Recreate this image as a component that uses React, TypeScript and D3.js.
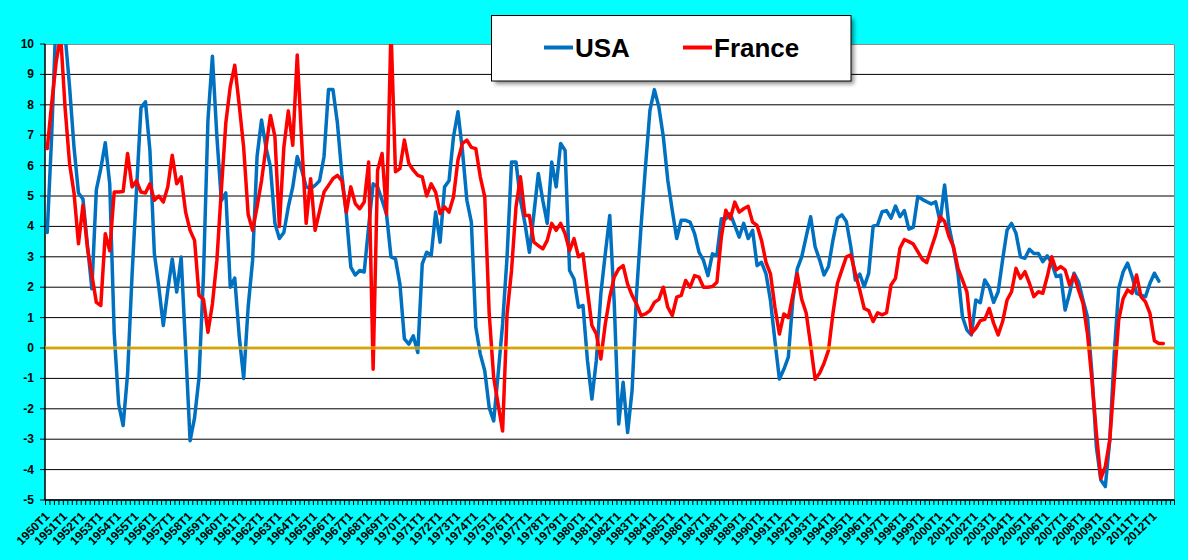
import { useMemo } from 'react';
import * as d3 from 'd3';

// Year-on-year growth, quarterly
const START_YEAR = 1950;
const END_YEAR = 2013; // last category is 2013T1
const LABEL_LAST_YEAR = 2012;

const usa = [
    3.8, 7.0, 11.0, 11.5, 10.3, 8.6, 6.6, 5.1, 4.9, 3.4,
    1.95, 5.2, 5.9, 6.75, 5.4, 0.5, -1.85, -2.55, -0.85, 2.4,
    5.2, 7.9, 8.1, 6.5, 3.1, 2.0, 0.74, 1.9, 2.93, 1.84,
    2.99, 0.0, -3.05, -2.3, -0.97, 2.4, 7.5, 9.6, 6.95, 4.85,
    5.1, 2.0, 2.3, 0.4, -1.0, 1.34, 2.88, 6.3, 7.5, 6.6,
    5.96, 4.1, 3.6, 3.8, 4.64, 5.3, 6.3, 5.85, 5.3, 5.24,
    5.35, 5.5, 6.3, 8.5, 8.5, 7.4, 5.7, 4.4, 2.66, 2.4,
    2.55, 2.5, 4.0, 5.4, 5.3, 4.86, 4.4, 3.0, 2.93, 2.1,
    0.3, 0.13, 0.4, -0.15, 2.77, 3.15, 3.04, 4.47, 3.48, 5.3,
    5.5, 6.95, 7.77, 6.5, 4.86, 4.14, 0.68, -0.2, -0.75, -1.96,
    -2.4, -0.86, 0.79, 3.0, 6.12, 6.12, 4.86, 4.1, 3.15, 4.4,
    5.74, 4.86, 4.1, 6.12, 5.3, 6.73, 6.5, 2.55, 2.27, 1.34,
    1.4, -0.4, -1.68, -0.4, 1.78, 3.1, 4.36, 1.5, -2.5, -1.13,
    -2.78, -1.4, 1.78, 3.98, 5.96, 7.82, 8.5, 7.93, 6.95, 5.52,
    4.53, 3.6, 4.2, 4.2, 4.14, 3.76, 3.15, 2.88, 2.38, 3.1,
    3.04, 4.25, 4.25, 4.42, 4.03, 3.65, 4.1, 3.6, 3.87, 2.71,
    2.82, 2.44, 1.56, 0.24, -1.02, -0.7, -0.3, 1.56, 2.6, 3.0,
    3.66, 4.32, 3.33, 2.9, 2.4, 2.68, 3.55, 4.27, 4.38, 4.16,
    3.33, 2.24, 2.43, 2.02, 2.46, 4.01, 4.05, 4.48, 4.52, 4.27,
    4.67, 4.32, 4.52, 3.91, 3.97, 4.98, 4.89, 4.81, 4.74, 4.81,
    4.16, 5.36, 3.99, 3.28, 2.46, 1.03, 0.59, 0.43, 1.58, 1.49,
    2.24, 2.0, 1.5, 1.85, 2.9, 3.88, 4.1, 3.77, 3.0, 2.95,
    3.25, 3.11, 3.11, 2.84, 3.03, 2.79, 2.35, 2.4, 1.25, 1.8,
    2.46, 2.18, 1.58, 1.03, -0.83, -3.25, -4.34, -4.56, -3.03, -0.18,
    1.96, 2.51, 2.79, 2.35, 1.8, 1.74, 1.69, 2.13, 2.46, 2.2,
];

const france = [
    6.56, 8.05, 9.4, 10.3, 7.9, 6.07, 5.1, 3.43, 4.7, 3.3,
    2.4, 1.5, 1.4, 3.76, 3.2, 5.13, 5.13, 5.15, 6.4, 5.3,
    5.5, 5.13, 5.1, 5.4, 4.86, 5.0, 4.8, 5.3, 6.34, 5.4,
    5.63, 4.47, 3.87, 3.54, 1.73, 1.6, 0.52, 1.45, 2.88, 5.2,
    7.4, 8.6, 9.3, 8.0, 6.6, 4.4, 3.87, 4.64, 5.5, 6.6,
    7.65, 6.95, 4.0, 6.6, 7.8, 6.67, 9.64, 6.8, 4.1, 5.57,
    3.87, 4.5, 5.13, 5.35, 5.57, 5.68, 5.5, 4.47, 5.3, 4.75,
    4.58, 4.8, 6.12, -0.7, 5.85, 6.4, 4.4, 10.5, 5.8, 5.9,
    6.84, 6.07, 5.85, 5.68, 5.63, 5.0, 5.4, 5.13, 4.42, 4.64,
    4.47, 4.97, 6.18, 6.73, 6.84, 6.6, 6.56, 5.63, 4.97, 1.12,
    -0.97, -1.85, -2.73, 1.12, 2.55, 4.64, 5.63, 4.36, 4.36, 3.48,
    3.37, 3.26, 3.54, 4.1, 3.87, 4.1, 3.76, 3.2, 3.6, 3.0,
    3.1, 1.89, 0.74, 0.46, -0.36, 0.79, 1.67, 2.33, 2.6, 2.71,
    2.1, 1.73, 1.45, 1.07, 1.12, 1.23, 1.5, 1.6, 2.0, 1.34,
    1.07, 1.67, 1.73, 2.22, 2.0, 2.38, 2.33, 2.0, 2.0, 2.02,
    2.16, 3.65, 4.53, 4.25, 4.8, 4.47, 4.58, 4.66, 4.14, 4.03,
    3.54, 2.82, 2.44, 1.34, 0.46, 1.12, 1.0, 1.73, 2.44, 1.6,
    1.15, 0.1, -1.03, -0.83, -0.5, -0.07, 1.14, 2.13, 2.57, 3.0,
    3.06, 2.46, 1.91, 1.3, 1.23, 0.87, 1.16, 1.09, 1.16, 2.07,
    2.29, 3.28, 3.57, 3.5, 3.42, 3.17, 2.92, 2.81, 3.28, 3.72,
    4.32, 4.16, 3.66, 3.33, 2.62, 2.24, 1.85, 0.48, 0.65, 0.9,
    0.94, 1.3, 0.81, 0.43, 0.87, 1.58, 1.85, 2.62, 2.29, 2.51,
    2.13, 1.69, 1.85, 1.8, 2.35, 3.0, 2.57, 2.68, 2.57, 2.07,
    2.4, 1.91, 1.47, 0.48, -1.05, -2.8, -4.29, -3.9, -3.03, -1.05,
    0.92, 1.63, 1.91, 1.8, 2.4, 1.69, 1.52, 1.14, 0.24, 0.15,
    0.15,
];

const yTicks = d3.range(-5, 11);

const quarters: string[] = [];
for (let yr = START_YEAR; yr <= END_YEAR; yr++) {
    for (let q = 1; q <= 4; q++) {
        if (yr === END_YEAR && q > 1) break;
        quarters.push(`${yr}T${q}`);
    }
}
const xLabels = quarters.filter((q) => q.endsWith('T1') && +q.slice(0, 4) <= LABEL_LAST_YEAR);

const W = 1188;
const H = 560;
const PLOT = { left: 45, top: 44, right: 1174.5, bottom: 500 };
const FONT = '"Liberation Sans", Arial, sans-serif';

const SERIES = [
    { name: 'USA', values: usa, color: '#0070C0' },
    { name: 'France', values: france, color: '#FF0000' },
];

export default function App() {
    const x = useMemo(
        () => d3.scaleBand().domain(quarters).range([PLOT.left, PLOT.right]).padding(0),
        []
    );
    const y = useMemo(() => d3.scaleLinear().domain([-5, 10]).range([PLOT.bottom, PLOT.top]), []);
    const bw = x.bandwidth();
    const cx = (i: number) => (x(quarters[i]) ?? 0) + bw / 2;

    const line = d3.line<number>()
        .x((_, i) => cx(i))
        .y((d) => y(d));

    const plotW = PLOT.right - PLOT.left;
    const plotH = PLOT.bottom - PLOT.top;

    return (
        <svg
            width={W}
            height={H}
            style={{ position: 'absolute', left: 0, top: 0, display: 'block' }}
            fontFamily={FONT}
        >
            <defs>
                <clipPath id="plot-clip">
                    <rect x={PLOT.left} y={PLOT.top} width={plotW} height={plotH} />
                </clipPath>
                <filter id="shadow" x="-10%" y="-30%" width="120%" height="160%">
                    <feGaussianBlur stdDeviation="2" />
                </filter>
            </defs>

            <rect width={W} height={H} fill="#00FFFF" />
            <rect x={PLOT.left} y={PLOT.top} width={plotW} height={plotH} fill="#fff" />

            {/* gridlines */}
            {yTicks.filter((t) => t < 10).map((t) => (
                <line key={t} x1={PLOT.left} x2={PLOT.right} y1={y(t)} y2={y(t)} stroke="#000" strokeWidth={1} />
            ))}
            {/* top / right border */}
            <path
                d={`M${PLOT.left},${PLOT.top + 0.5}H${PLOT.right}V${PLOT.bottom}`}
                fill="none"
                stroke="#8c8c8c"
                strokeWidth={1}
            />

            {/* y axis */}
            <line x1={PLOT.left} x2={PLOT.left} y1={PLOT.top} y2={PLOT.bottom} stroke="#000" strokeWidth={1.5} />
            {yTicks.map((t) => (
                <g key={t}>
                    <line x1={PLOT.left - 5} x2={PLOT.left} y1={y(t)} y2={y(t)} stroke="#000" strokeWidth={1} />
                    <text
                        x={34}
                        y={y(t)}
                        textAnchor="end"
                        dominantBaseline="central"
                        fontSize={12}
                        fontWeight="bold"
                    >
                        {t}
                    </text>
                </g>
            ))}

            {/* x axis */}
            <line x1={PLOT.left} x2={PLOT.right} y1={PLOT.bottom} y2={PLOT.bottom} stroke="#000" strokeWidth={1.5} />
            {quarters.map((q) => (
                <line
                    key={q}
                    x1={(x(q) ?? 0) + 0.5}
                    x2={(x(q) ?? 0) + 0.5}
                    y1={PLOT.bottom}
                    y2={PLOT.bottom + 5}
                    stroke="#000"
                    strokeWidth={1}
                />
            ))}
            <line x1={PLOT.right} x2={PLOT.right} y1={PLOT.bottom} y2={PLOT.bottom + 5} stroke="#000" />
            {xLabels.map((q) => {
                const ax = (x(q) ?? 0) + bw / 2 + 3;
                const ay = PLOT.bottom + 17;
                return (
                    <text
                        key={q}
                        x={ax}
                        y={ay}
                        transform={`rotate(-45 ${ax} ${ay})`}
                        textAnchor="end"
                        fontSize={12}
                        fontWeight="bold"
                    >
                        {q}
                    </text>
                );
            })}

            {/* series */}
            <g clipPath="url(#plot-clip)">
                {SERIES.map((s) => (
                    <path
                        key={s.name}
                        d={line(s.values) ?? ''}
                        fill="none"
                        stroke={s.color}
                        strokeWidth={3.5}
                        strokeLinejoin="round"
                        strokeLinecap="round"
                    />
                ))}
            </g>

            {/* zero line */}
            <line
                x1={PLOT.left}
                x2={PLOT.right}
                y1={y(0)}
                y2={y(0)}
                stroke="#FFC000"
                strokeOpacity={0.55}
                strokeWidth={4}
            />

            {/* legend */}
            <rect x={495} y={19} width={359} height={65} fill="#000" opacity={0.45} filter="url(#shadow)" />
            <rect x={491.5} y={15.5} width={359.5} height={65.5} fill="#fff" stroke="#000" strokeWidth={1} />
            {SERIES.map((s, i) => {
                const lx = i === 0 ? 544 : 683;
                return (
                    <g key={s.name}>
                        <line x1={lx} x2={lx + 29} y1={47.5} y2={47.5} stroke={s.color} strokeWidth={4} />
                        <text x={lx + 31} y={57} fontSize={26} fontWeight="bold" fill="#000">
                            {s.name}
                        </text>
                    </g>
                );
            })}
        </svg>
    );
}
